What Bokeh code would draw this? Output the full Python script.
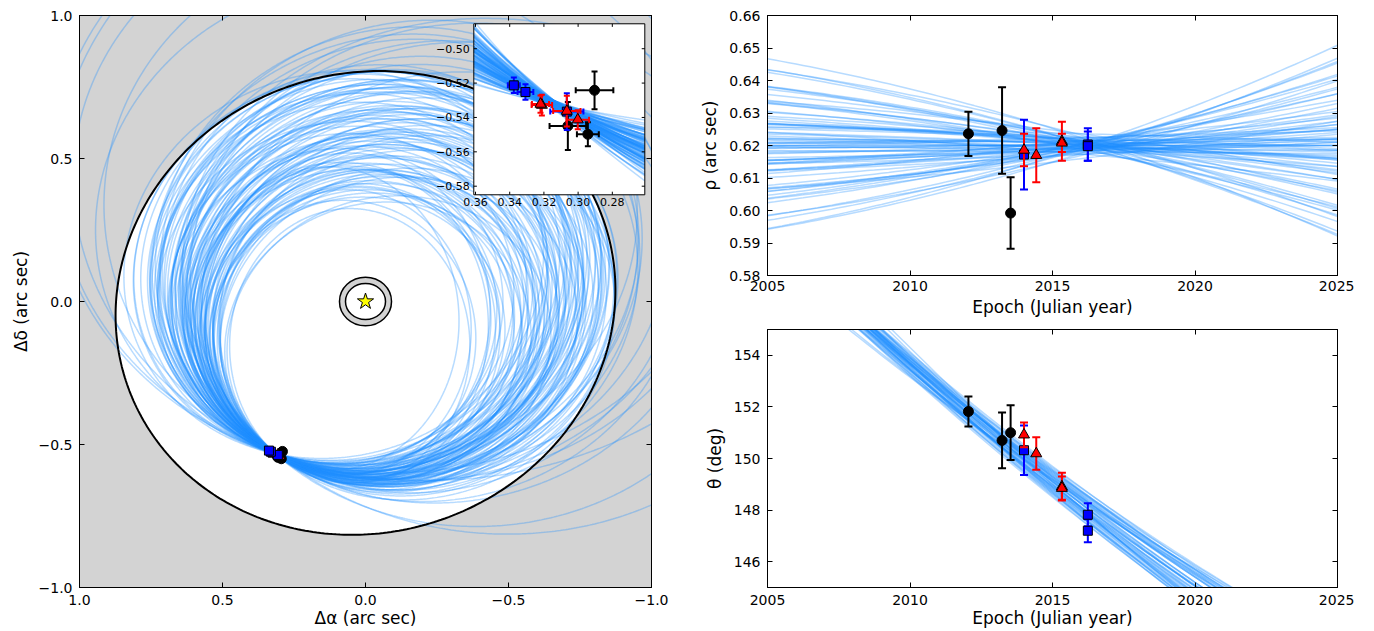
import numpy as np
from bokeh.plotting import figure
from bokeh.layouts import row, column
from bokeh.models import Range1d, FixedTicker, LinearAxis, CustomJSTickFormatter
from bokeh.embed import file_html
from bokeh.resources import INLINE
from bokeh.core.properties import value

# ---------------- measured astrometry ----------------
blk_epoch = [2012.05, 2013.23, 2013.53]
blk_rho = [0.6236, 0.6246, 0.5992]
blk_rho_err = [0.0068, 0.0133, 0.0110]
blk_theta = [151.82, 150.70, 151.00]
blk_theta_err = [0.58, 1.08, 1.06]
blk_dra = [0.2943, 0.3060, 0.2904]
blk_ddec = [-0.5498, -0.5450, -0.5242]
blk_dra_err = [0.0064, 0.0107, 0.0110]
blk_ddec_err = [0.0070, 0.0140, 0.0110]

blu_epoch = [2014.00, 2016.24, 2016.24]
blu_rho = [0.6172, 0.6203, 0.6198]
blu_rho_err = [0.0107, 0.0050, 0.0045]
blu_theta = [150.32, 147.82, 147.20]
blu_theta_err = [0.96, 0.45, 0.45]
blu_dra = [0.3066, 0.3308, 0.3376]
blu_ddec = [-0.5366, -0.5252, -0.5213]
blu_dra_err = [0.0097, 0.0046, 0.0035]
blu_ddec_err = [0.0107, 0.0045, 0.0045]

red_epoch = [2014.00, 2014.43, 2015.33, 2015.33]
red_rho = [0.6186, 0.6170, 0.6213, 0.6208]
red_rho_err = [0.0050, 0.0083, 0.0060, 0.0028]
red_theta = [150.92, 150.19, 148.91, 148.85]
red_theta_err = [0.48, 0.63, 0.54, 0.45]
red_dra = [0.3002, 0.3066, 0.3212, 0.3220]
red_ddec = [-0.5413, -0.5363, -0.5328, -0.5322]
red_dra_err = [0.0066, 0.0080, 0.0060, 0.0050]
red_ddec_err = [0.0055, 0.0090, 0.0060, 0.0050]

# ---------------- orbit sample (apparent ellipses through the companion) ----------------
anchor_dra, anchor_ddec = 0.315, -0.532
orb_a = [0.42, 0.44, 0.46, 0.48, 0.45, 0.50, 0.47, 0.52, 0.50, 0.54,
         0.52, 0.53, 0.54, 0.55, 0.56, 0.57, 0.58, 0.59, 0.60, 0.61, 0.62, 0.63, 0.64, 0.65, 0.66,
         0.67, 0.68, 0.69, 0.70, 0.55, 0.58, 0.61, 0.64, 0.67, 0.70, 0.54, 0.57, 0.60, 0.63, 0.66,
         0.56, 0.59, 0.62, 0.65, 0.68, 0.53, 0.60, 0.66, 0.69, 0.57, 0.62, 0.64, 0.67, 0.70, 0.58,
         0.74, 0.75, 0.75, 0.76, 0.76, 0.77, 0.77, 0.77, 0.76, 0.76, 0.75, 0.73, 0.72, 0.71, 0.70,
         0.73, 0.74, 0.75, 0.76, 0.75, 0.74, 0.72, 0.71, 0.72, 0.73,
         1.20, 1.05, 1.35, 1.15, 0.95, 0.90, 0.88, 0.85, 1.00, 1.10, 0.92, 0.86,
         0.62, 0.64, 0.66, 0.68, 0.70, 0.72, 0.73, 0.74, 0.75, 0.71, 0.69, 0.67, 0.65, 0.63, 0.76,
         0.77, 0.60, 0.58, 0.74, 0.72, 0.82, 0.84, 0.80, 0.86]
orb_b = [0.48, 0.50, 0.48, 0.52, 0.53, 0.51, 0.55, 0.54, 0.56, 0.55,
         0.48, 0.49, 0.50, 0.50, 0.51, 0.52, 0.53, 0.53, 0.54, 0.55, 0.56, 0.57, 0.58, 0.59, 0.59,
         0.60, 0.61, 0.62, 0.63, 0.52, 0.55, 0.57, 0.59, 0.61, 0.64, 0.49, 0.51, 0.53, 0.56, 0.58,
         0.52, 0.54, 0.57, 0.60, 0.62, 0.50, 0.56, 0.61, 0.63, 0.53, 0.55, 0.57, 0.62, 0.65, 0.52,
         0.67, 0.67, 0.68, 0.68, 0.69, 0.69, 0.70, 0.69, 0.69, 0.68, 0.67, 0.66, 0.65, 0.64, 0.63,
         0.66, 0.66, 0.67, 0.68, 0.68, 0.67, 0.65, 0.64, 0.64, 0.65,
         1.05, 0.95, 1.10, 1.00, 0.85, 0.80, 0.78, 0.74, 0.88, 0.90, 0.80, 0.78,
         0.57, 0.58, 0.60, 0.62, 0.63, 0.65, 0.66, 0.67, 0.68, 0.64, 0.63, 0.61, 0.59, 0.58, 0.69,
         0.70, 0.55, 0.54, 0.66, 0.66, 0.74, 0.76, 0.74, 0.76]
orb_tilt = [0, 5, -5, 8, -3, 10, 0, -8, 4, -4,
            -15, -20, -12, -22, -18, -10, -25, -16, -19, -13, -21, -17, -14, -23, -18,
            -11, -20, -16, -19, -18, -14, -22, -18, -12, -20, -18, -15, -21, -17, -19,
            -26, -9, -24, -10, -25, -18, -18, -16, -22, -20, -13, -21, -15, -18, -18,
            -18, -16, -20, -18, -15, -20, -18, -16, -19, -17, -20, -18, -16, -19, -18,
            -18, -22, -14, -21, -15, -20, -17, -21, -18, -19,
            0, 5, -5, 10, -10, -18, -18, -18, 0, 5, -12, -20,
            -18, -20, -16, -19, -17, -18, -21, -15, -18, -20, -14, -22, -18, -16, -19,
            -17, -20, -18, -23, -13, -18, -20, -15, -18]
orb_pa_motion = [42, 36, 33, 38, 30, 35, 40, 28, 32, 37,
                 30, 26, 34, 28, 32, 24, 36, 29, 31, 27, 33, 25, 30, 35, 28,
                 32, 26, 34, 29, 22, 20, 19, 21, 23, 18, 38, 40, 37, 39, 36,
                 30, 27, 31, 29, 33, 33, 24, 31, 27, 35, 28, 32, 25, 30, 30,
                 12, 15, 17, 19, 21, 23, 25, 27, 29, 31, 33, 35, 37, 39, 41,
                 14, 18, 22, 26, 28, 30, 32, 36, 24, 20,
                 18, 24, 20, 22, 16, 28, 33, 38, 41, 40, 36, 26,
                 22, 26, 29, 23, 27, 31, 21, 25, 29, 33, 19, 35, 17, 31, 23,
                 21, 28, 34, 27, 24, 30, 27, 33, 24]
orb_offset = [0.000, 0.001, -0.001, 0.002, -0.002, 0.000, 0.001, -0.001, 0.002, 0.000,
              0.001, -0.002, 0.000, 0.002, -0.001, 0.001, 0.000, -0.002, 0.002, -0.001,
              0.000, 0.001, -0.001, 0.002, -0.002, 0.000, 0.001, -0.001, 0.002, 0.000,
              -0.001, 0.001, -0.002, 0.002, 0.000, -0.001, 0.001, 0.000, -0.002, 0.002,
              0.001, -0.001, 0.000, 0.002, -0.002, 0.001, 0.000, -0.001, 0.002, -0.002,
              0.000, 0.001, -0.001, 0.000, 0.002, 0.000, 0.001, -0.001, 0.002, -0.002,
              0.000, 0.001, -0.001, 0.002, -0.002, 0.000, 0.001, -0.001, 0.002, 0.000,
              -0.001, 0.001, -0.002, 0.002, 0.000, -0.001, 0.001, 0.000, -0.002, 0.002,
              0.000, 0.001, -0.001, 0.002, 0.000, -0.001, 0.000, 0.001, -0.001, 0.002, 0.000, -0.002,
              0.001, -0.001, 0.000, 0.002, -0.002, 0.001, 0.000, -0.001, 0.002, -0.002, 0.000, 0.001,
              -0.001, 0.002, 0.000, -0.001, 0.001, 0.000, -0.002, 0.002, 0.001, -0.001, 0.000, 0.001]

# ---------------- model tracks in rho / theta ----------------
rho_ref_epoch, rho_ref = 2016.5, 0.6200
rho_offset = [1.0, -0.5, 2.0, -1.5, 0.5, -2.0, 1.5, 0.0, -1.0, 3.0, -0.5, 1.0, -3.0, 0.5, 1.5, -1.5, 0.0, 2.0, -1.0, 0.5,
              -0.5, 1.0, -2.0, 0.0, 1.5, -1.0, 0.5, -0.5, 2.5, -1.5, 1.0, 0.0, -2.5, 1.5, -0.5, 0.5, -1.0, 2.0, -1.5, 1.0,
              0.0, -0.5, 1.5, -2.0, 0.5, -1.0, 1.0, 0.0, -0.5, 3.5, -1.5, 0.5, -3.5, 1.0, 0.0, -1.0, 1.5, -0.5, 2.5, 0.0,
              0.5, -1.0, 1.5, -0.5, 0.0, 2.0, -2.0, 1.0, -1.5, 0.5, -0.5, 1.0, 0.0, -1.0, 2.5, -2.5, 0.5, 1.5, -0.5, 0.0]
rho_slope = [-2.9, -2.7, -2.4, -2.2, -2.0, -1.8, -1.6, -1.5, -1.3, -1.2, -1.0, -0.9, -0.8, -0.7, -0.6, -0.5, -0.4, -0.35, -0.3, -0.2,
             -0.15, -0.1, -0.05, 0.0, 0.05, 0.1, 0.15, 0.2, 0.3, 0.35, 0.4, 0.5, 0.6, 0.7, 0.8, 0.9, 1.0, 1.2, 1.3, 1.5,
             1.6, 1.8, 2.0, 2.2, 2.5, 2.8, 3.0, -0.45, 0.45, -0.25, 0.25, -1.1, 1.1, -0.65, 0.65, -0.05, 0.1, -0.3, 0.2, 0.0,
             -1.4, 1.4, -0.55, 0.55, -0.85, 0.85, -1.7, 1.7, -0.15, 0.15, -2.1, 2.1, -0.75, 0.75, -0.35, 0.35, -1.9, 1.9, -2.6, 2.6]
rho_bend = 0.02
theta_ref_epoch, theta_ref = 2015.0, 149.1
theta_offset = [0.0, 0.3, -0.3, 0.5, -0.5, 0.1, -0.1, 0.2, -0.2, 0.4, -0.4, 0.6, -0.6, 0.05, -0.05, 0.25, -0.25, 0.35, -0.35, 0.15,
                -0.15, 0.45, -0.45, 0.0, 0.1, -0.2, 0.3, -0.1, 0.2, -0.3, 0.4, -0.4, 0.0, 0.15, -0.15, 0.05, 0.25, -0.25, 0.55, -0.55,
                0.1, -0.1, 0.35, -0.35, 0.0, 0.2, -0.2, 0.45, -0.45, 0.05]
theta_slope = [-0.86, -0.82, -0.90, -0.84, -0.88, -0.79, -0.94, -0.87, -0.85, -0.81, -0.92, -0.83, -0.89, -0.76, -0.97, -0.84,
               -0.88, -0.80, -0.93, -0.86, -0.85, -0.82, -0.91, -0.99, -0.74, -0.87, -0.84, -0.90, -0.83, -0.88, -0.78, -0.95,
               -0.86, -0.89, -0.82, -0.92, -0.84, -0.87, -0.80, -0.91, -0.85, -0.87, -0.83, -0.89, -0.86, -0.81, -0.91, -0.84,
               -0.88, -0.86]
theta_bend = 0.01

# ---------------- styling ----------------
BLUE = "#1E90FF"
GRAY = "#D3D3D3"
FONT = "DejaVu Sans"
LINE_ALPHA = 0.32
xy_ticks = [-1.0, -0.5, 0.0, 0.5, 1.0]
year_ticks = [2005, 2010, 2015, 2020, 2025]
rho_ticks = [0.58, 0.59, 0.60, 0.61, 0.62, 0.63, 0.64, 0.65, 0.66]
theta_ticks = [146, 148, 150, 152, 154]


def style_axis(ax, ticks, digits, label=None, tick_standoff=5, label_standoff=5):
    ax.ticker = FixedTicker(ticks=ticks)
    ax.formatter = CustomJSTickFormatter(code="return tick.toFixed(%d).replace('-', '\u2212');" % digits)
    ax.major_tick_in = 5
    ax.major_tick_out = 0
    ax.minor_tick_line_color = None
    ax.major_tick_line_color = "black"
    ax.axis_line_color = "black"
    ax.major_label_text_font = FONT
    ax.major_label_text_font_size = "14px"
    ax.major_label_text_color = "black"
    ax.major_label_standoff = tick_standoff
    if label:
        ax.axis_label = label
        ax.axis_label_text_font = FONT
        ax.axis_label_text_font_size = "17px"
        ax.axis_label_text_font_style = "normal"
        ax.axis_label_text_color = "black"
        ax.axis_label_standoff = label_standoff


def mirror(p, loc, ticks):
    ax = LinearAxis(ticker=FixedTicker(ticks=ticks), major_label_text_font_size="0px",
                    major_label_text_color=None, major_label_standoff=0, major_tick_in=5, major_tick_out=0,
                    minor_tick_line_color=None, axis_line_color="black", major_tick_line_color="black")
    p.add_layout(ax, loc)


def base_fig(xr, yr, fw, fh, bl, br, bt, bb, bg="white"):
    p = figure(x_range=xr, y_range=yr, frame_width=fw, frame_height=fh,
               min_border_left=bl, min_border_right=br, min_border_top=bt, min_border_bottom=bb,
               output_backend="svg", toolbar_location=None, background_fill_color=bg)
    p.grid.visible = False
    p.outline_line_color = "black"
    p.outline_line_alpha = 1.0
    return p


def orbit_curve(i, s):
    a, b = orb_a[i], orb_b[i]
    ph = np.radians(orb_tilt[i])
    g = np.radians(orb_pa_motion[i])
    px = anchor_dra + orb_offset[i] * np.cos(g + np.pi / 2)
    py = anchor_ddec + orb_offset[i] * np.sin(g + np.pi / 2)
    gp = g - ph
    t = np.arctan2(-np.cos(gp) / a, np.sin(gp) / b)
    lx, ly = a * np.cos(t), b * np.sin(t)
    cx = px - (lx * np.cos(ph) - ly * np.sin(ph))
    cy = py - (lx * np.sin(ph) + ly * np.cos(ph))
    ss = s + t
    u, v = a * np.cos(ss), b * np.sin(ss)
    return cx + u * np.cos(ph) - v * np.sin(ph), cy + u * np.sin(ph) + v * np.cos(ph)


# ================= left panel =================
p1 = base_fig(Range1d(1, -1), Range1d(-1, 1), 572, 572, 79, 23, 15, 43, bg=GRAY)
style_axis(p1.xaxis[0], xy_ticks, 1, "\u0394\u03b1 (arc sec)", 7, 0)
style_axis(p1.yaxis[0], xy_ticks, 1, "\u0394\u03b4 (arc sec)", 7, 5)
mirror(p1, "above", xy_ticks)
mirror(p1, "right", xy_ticks)

# white region bounded by the black ellipse
reg_cx, reg_cy, reg_a, reg_b, reg_tilt = 0.0, -0.005, 0.881, 0.803, -18.0
sr = np.linspace(0, 2 * np.pi, 400)
rt = np.radians(reg_tilt)
reg_x = reg_cx + reg_a * np.cos(sr) * np.cos(rt) - reg_b * np.sin(sr) * np.sin(rt)
reg_y = reg_cy + reg_a * np.cos(sr) * np.sin(rt) + reg_b * np.sin(sr) * np.cos(rt)
p1.patch(reg_x, reg_y, fill_color="white", line_color=None)

s_full = np.linspace(-np.pi, np.pi, 720)
oxs, oys = [], []
for i in range(len(orb_a)):
    x, y = orbit_curve(i, s_full)
    oxs.append(x)
    oys.append(y)
p1.multi_line(oxs, oys, line_color=BLUE, line_alpha=LINE_ALPHA, line_width=1.5)
p1.line(reg_x, reg_y, line_color="black", line_width=2)

star_x, star_y = [0.0], [0.0]
ring_w = [0.182, 0.140]
ring_h = [0.170, 0.126]
p1.ellipse(x=star_x, y=star_y, width=ring_w[0], height=ring_h[0], fill_color=GRAY, line_color="black", line_width=1.5)
p1.ellipse(x=star_x, y=star_y, width=ring_w[1], height=ring_h[1], fill_color="white", line_color="black", line_width=1.5)
p1.scatter(star_x, star_y, marker="star", size=17, fill_color="yellow", line_color="black", line_width=1)

p1.scatter(blk_dra, blk_ddec, marker="circle", size=10, fill_color="black", line_color="black")
p1.scatter(red_dra, red_ddec, marker="triangle", size=11, fill_color="red", line_color="black")
p1.scatter(blu_dra, blu_ddec, marker="square", size=9, fill_color="blue", line_color="black")

# ---------------- inset ----------------
ins_x0, ins_x1 = 0.361, 0.261
ins_y0, ins_y1 = -0.585, -0.4855
tgt_x0, tgt_x1 = -0.3787, -0.9766
tgt_y0, tgt_y1 = 0.3731, 0.9710
ins_xticks = [0.36, 0.34, 0.32, 0.30, 0.28]
ins_yticks = [-0.58, -0.56, -0.54, -0.52, -0.50]
sub = p1.subplot(x_source=Range1d(ins_x0, ins_x1), y_source=Range1d(ins_y0, ins_y1),
                 x_target=Range1d(tgt_x0, tgt_x1), y_target=Range1d(tgt_y0, tgt_y1))
sub.quad(left=[ins_x0], right=[ins_x1], bottom=[ins_y0], top=[ins_y1], fill_color="white", line_color=None)

s_near = np.linspace(-0.3, 0.3, 4000)
ixs, iys = [], []
for i in range(len(orb_a)):
    x, y = orbit_curve(i, s_near)
    m = (x <= ins_x0) & (x >= ins_x1) & (y >= ins_y0) & (y <= ins_y1)
    if m.sum() > 1:
        ixs.append(x[m])
        iys.append(y[m])
sub.multi_line(ixs, iys, line_color=BLUE, line_alpha=LINE_ALPHA, line_width=1.5)


def inset_points(xs, ys, xe, ye, color, marker, size):
    xs, ys, xe, ye = map(np.asarray, (xs, ys, xe, ye))
    sub.segment(x0=xs - xe, y0=ys, x1=xs + xe, y1=ys, line_color=color, line_width=2)
    sub.segment(x0=xs, y0=ys - ye, x1=xs, y1=ys + ye, line_color=color, line_width=2)
    sub.scatter(np.concatenate([xs - xe, xs + xe]), np.concatenate([ys, ys]), marker="dash", angle=np.pi / 2,
                size=6, line_color=color, line_width=2)
    sub.scatter(np.concatenate([xs, xs]), np.concatenate([ys - ye, ys + ye]), marker="dash",
                size=6, line_color=color, line_width=2)
    sub.scatter(xs, ys, marker=marker, size=size, fill_color=color, line_color="black", line_width=1)


inset_points(blk_dra, blk_ddec, blk_dra_err, blk_ddec_err, "black", "circle", 10)
inset_points(blu_dra, blu_ddec, blu_dra_err, blu_ddec_err, "blue", "square", 9)
inset_points(red_dra, red_ddec, red_dra_err, red_ddec_err, "red", "triangle", 11)

sub.quad(left=[ins_x0], right=[ins_x1], bottom=[ins_y0], top=[ins_y1], fill_color=None, line_color="black", line_width=1)
tl = 0.0018
nx, ny = len(ins_xticks), len(ins_yticks)
sub.segment(x0=ins_xticks, y0=[ins_y0] * nx, x1=ins_xticks, y1=[ins_y0 + tl] * nx, line_color="black")
sub.segment(x0=ins_xticks, y0=[ins_y1] * nx, x1=ins_xticks, y1=[ins_y1 - tl] * nx, line_color="black")
sub.segment(x0=[ins_x0] * ny, y0=ins_yticks, x1=[ins_x0 - tl] * ny, y1=ins_yticks, line_color="black")
sub.segment(x0=[ins_x1] * ny, y0=ins_yticks, x1=[ins_x1 + tl] * ny, y1=ins_yticks, line_color="black")
sub.text(x=ins_xticks, y=[ins_y0] * nx, text=["%.2f" % v for v in ins_xticks], text_align="center",
         text_baseline="top", y_offset=3, text_font=value(FONT), text_font_size=value("11px"), text_color="black")
sub.text(x=[ins_x0] * ny, y=ins_yticks, text=[("%.2f" % v).replace("-", "\u2212") for v in ins_yticks],
         text_align="right", text_baseline="middle", x_offset=-4, text_font=value(FONT),
         text_font_size=value("11px"), text_color="black")

# ================= right panels =================
years = np.linspace(2005, 2025, 81)


def err_points(p, xs, ys, es, color, marker, size):
    xs, ys, es = map(np.asarray, (xs, ys, es))
    p.segment(x0=xs, y0=ys - es, x1=xs, y1=ys + es, line_color=color, line_width=2)
    p.scatter(np.concatenate([xs, xs]), np.concatenate([ys - es, ys + es]), marker="dash", size=8,
              line_color=color, line_width=2)
    p.scatter(xs, ys, marker=marker, size=size, fill_color=color, line_color="black", line_width=1)


p2 = base_fig(Range1d(2005, 2025), Range1d(0.58, 0.66), 570, 260, 93, 17, 15, 46)
style_axis(p2.xaxis[0], year_ticks, 0, "Epoch (Julian year)", 5, 3)
style_axis(p2.yaxis[0], rho_ticks, 2, "\u03c1 (arc sec)", 7, 6)
mirror(p2, "above", year_ticks)
mirror(p2, "right", rho_ticks)
rxs, rys = [], []
for off, sl in zip(rho_offset, rho_slope):
    d = years - rho_ref_epoch
    rxs.append(years)
    rys.append(rho_ref + off * 1e-3 + sl * 1e-3 * d + rho_bend * sl * 1e-3 * d ** 2)
p2.multi_line(rxs, rys, line_color=BLUE, line_alpha=LINE_ALPHA, line_width=1.5)
err_points(p2, blk_epoch, blk_rho, blk_rho_err, "black", "circle", 10)
err_points(p2, blu_epoch, blu_rho, blu_rho_err, "blue", "square", 9)
err_points(p2, red_epoch, red_rho, red_rho_err, "red", "triangle", 11)

p3 = base_fig(Range1d(2005, 2025), Range1d(145, 155), 570, 258, 93, 17, 8, 43)
style_axis(p3.xaxis[0], year_ticks, 0, "Epoch (Julian year)", 7, 0)
style_axis(p3.yaxis[0], theta_ticks, 0, "\u03b8 (deg)", 7, 6)
mirror(p3, "above", year_ticks)
mirror(p3, "right", theta_ticks)
txs, tys = [], []
for off, sl in zip(theta_offset, theta_slope):
    d = years - theta_ref_epoch
    txs.append(years)
    tys.append(theta_ref + off + sl * d + theta_bend * d ** 2)
p3.multi_line(txs, tys, line_color=BLUE, line_alpha=LINE_ALPHA, line_width=1.5)
err_points(p3, blk_epoch, blk_theta, blk_theta_err, "black", "circle", 10)
err_points(p3, blu_epoch, blu_theta, blu_theta_err, "blue", "square", 9)
err_points(p3, red_epoch, red_theta, red_theta_err, "red", "triangle", 11)

layout = row(p1, column(p2, p3))
open("out.html", "w").write(file_html(layout, INLINE))
